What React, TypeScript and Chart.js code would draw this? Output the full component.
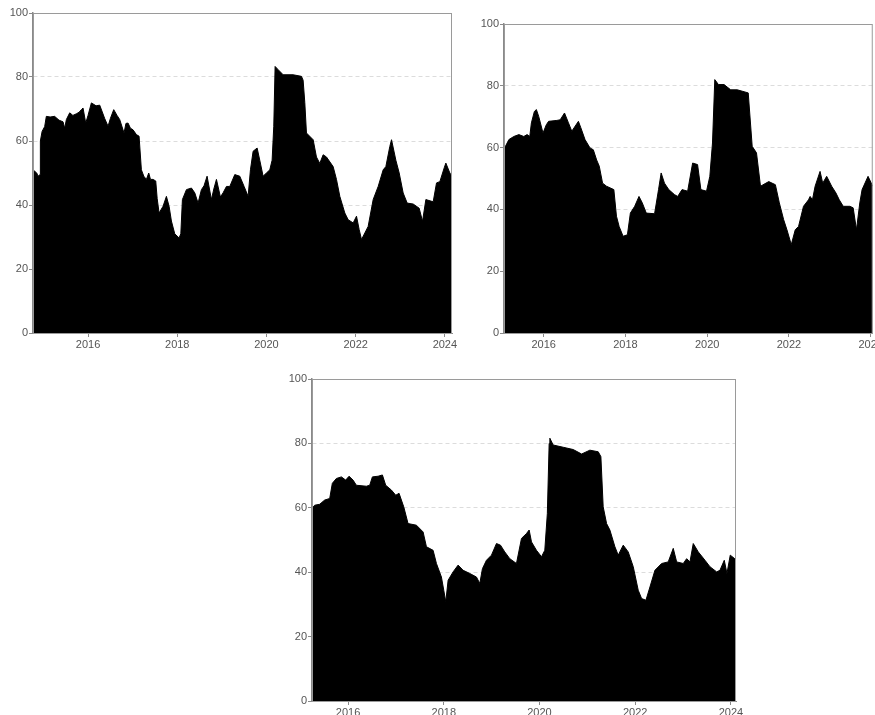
import React, { useEffect, useRef } from "react";
import { Chart, registerables } from "chart.js";

Chart.register(...registerables);

// ---------- data ----------
const xTickYears = [2016, 2018, 2020, 2022, 2024];
const yTickValues = [0, 20, 40, 60, 80, 100];

const p1Dates = [
  2014.766, 2014.85, 2014.879, 2014.925, 2014.931, 2014.97, 2015.028, 2015.065, 2015.15, 2015.25,
  2015.35, 2015.439, 2015.477, 2015.514, 2015.589, 2015.66, 2015.738, 2015.8, 2015.85, 2015.888,
  2015.948, 2016.0, 2016.075, 2016.18, 2016.262, 2016.374, 2016.449, 2016.5, 2016.576, 2016.65,
  2016.71, 2016.807, 2016.85, 2016.897, 2016.95, 2017.009, 2017.084, 2017.144, 2017.196, 2017.25,
  2017.308, 2017.361, 2017.4, 2017.458, 2017.518, 2017.55, 2017.593, 2017.682, 2017.757, 2017.817,
  2017.869, 2017.944, 2018.041, 2018.08, 2018.116, 2018.206, 2018.318, 2018.393, 2018.467, 2018.542,
  2018.6, 2018.669, 2018.766, 2018.82, 2018.879, 2018.968, 2019.028, 2019.103, 2019.178, 2019.29,
  2019.402, 2019.499, 2019.589, 2019.641, 2019.701, 2019.791, 2019.85, 2019.925, 2020.0, 2020.075,
  2020.127, 2020.164, 2020.194, 2020.262, 2020.374, 2020.598, 2020.785, 2020.822, 2020.86, 2020.897,
  2021.047, 2021.121, 2021.196, 2021.271, 2021.346, 2021.495, 2021.57, 2021.645, 2021.757, 2021.832,
  2021.944, 2022.019, 2022.079, 2022.131, 2022.206, 2022.28, 2022.393, 2022.505, 2022.617, 2022.677,
  2022.766, 2022.804, 2022.901, 2022.976, 2023.065, 2023.155, 2023.29, 2023.424, 2023.499, 2023.574,
  2023.738, 2023.813, 2023.888, 2023.985, 2024.022, 2024.112, 2024.16,
];
const p1Values = [
  51, 50, 49, 49.5, 60, 63, 64.5, 67.7, 67.5, 67.7,
  66.5, 66, 64, 66.7, 68.8, 68, 68.5, 69, 69.8, 70.3,
  65.6, 68, 71.9, 71, 71.2, 67, 64.6, 67, 69.8, 68,
  66.7, 62.5, 65.5, 65.6, 64, 63.5, 62, 61.5, 51, 49,
  48, 50, 48, 48, 47.5, 42, 37.5, 39.6, 42.7, 39.6,
  35, 31, 29.7, 31, 41.7, 44.8, 45.3, 43.8, 40.6, 44.8,
  46, 49, 41.7, 45, 48, 42.5, 43.8, 45.8, 45.8, 49.5,
  49, 45.8, 42.7, 51, 56.8, 57.8, 54, 49, 50, 51,
  54, 64.6, 83.3, 82.3, 80.7, 80.7, 80.2, 79, 72, 62.5,
  60.4, 55, 53, 55.7, 55, 52, 48, 42.7, 37.5, 35.4,
  34.4, 36.5, 32.3, 29.2, 31.25, 33.3, 41.7, 45.8, 51, 52,
  58.3, 60.4, 54, 50, 43.75, 40.6, 40.3, 39, 34.9, 41.7,
  41, 46.9, 47.3, 51.6, 53.1, 50, 49,
];

const p2Dates = [
  2015.03, 2015.069, 2015.15, 2015.271, 2015.393, 2015.514, 2015.595, 2015.66, 2015.7, 2015.773,
  2015.822, 2015.879, 2015.984, 2016.065, 2016.121, 2016.324, 2016.405, 2016.51, 2016.607, 2016.688,
  2016.85, 2016.907, 2017.012, 2017.134, 2017.215, 2017.296, 2017.36, 2017.441, 2017.538, 2017.717,
  2017.781, 2017.846, 2017.943, 2018.049, 2018.121, 2018.227, 2018.332, 2018.413, 2018.51, 2018.713,
  2018.81, 2018.874, 2018.955, 2019.061, 2019.198, 2019.279, 2019.385, 2019.522, 2019.644, 2019.765,
  2019.846, 2019.984, 2020.065, 2020.13, 2020.186, 2020.275, 2020.413, 2020.575, 2020.737, 2021.004,
  2021.101, 2021.206, 2021.304, 2021.506, 2021.668, 2021.765, 2021.87, 2021.951, 2022.057, 2022.154,
  2022.235, 2022.356, 2022.478, 2022.518, 2022.575, 2022.64, 2022.761, 2022.826, 2022.923, 2023.045,
  2023.15, 2023.231, 2023.328, 2023.49, 2023.571, 2023.652, 2023.733, 2023.789, 2023.935, 2024.05,
];
const p2Values = [
  59.3, 60.5, 62.6, 63.6, 64.2, 63.6, 64.2, 63.6, 68, 71.7,
  72.3, 70.1, 64.7, 67.4, 68.5, 68.8, 69, 71.2, 68, 65.3,
  68.5, 66.5, 62.6, 59.9, 59.3, 56, 54, 48.5, 47.5, 46.4,
  37.8, 34.5, 31.3, 31.8, 38.8, 41, 44.2, 42.1, 38.8, 38.6,
  46.4, 51.8, 48.5, 46.4, 44.8, 44.2, 46.4, 45.9, 55, 54.5,
  46.4, 45.9, 50.7, 61.5, 82, 80.4, 80.4, 78.7, 78.7, 77.7,
  60.4, 58.3, 47.5, 49, 48, 42.1, 36.7, 33.4, 28.6, 33.4,
  34.5, 41, 43.1, 44.2, 43.1, 47.5, 52.3, 48.5, 50.7, 47.5,
  45.3, 43.1, 41, 41, 40.5, 33.4, 42.1, 46.4, 50.7, 47.5,
];

const p3Dates = [
  2015.247, 2015.303, 2015.408, 2015.512, 2015.617, 2015.672, 2015.756, 2015.861, 2015.951, 2016.021,
  2016.105, 2016.174, 2016.383, 2016.453, 2016.509, 2016.627, 2016.718, 2016.787, 2016.906, 2016.997,
  2017.066, 2017.164, 2017.254, 2017.429, 2017.568, 2017.638, 2017.777, 2017.847, 2017.951, 2018.0,
  2018.042, 2018.091, 2018.195, 2018.3, 2018.404, 2018.544, 2018.683, 2018.753, 2018.808, 2018.892,
  2018.997, 2019.101, 2019.185, 2019.275, 2019.38, 2019.519, 2019.624, 2019.728, 2019.784, 2019.833,
  2019.937, 2020.042, 2020.111, 2020.164, 2020.202, 2020.217, 2020.286, 2020.495, 2020.704, 2020.88,
  2021.053, 2021.227, 2021.283, 2021.331, 2021.402, 2021.471, 2021.576, 2021.645, 2021.75, 2021.854,
  2021.959, 2022.063, 2022.134, 2022.224, 2022.308, 2022.412, 2022.552, 2022.69, 2022.795, 2022.866,
  2023.004, 2023.075, 2023.144, 2023.213, 2023.318, 2023.458, 2023.562, 2023.702, 2023.771, 2023.861,
  2023.917, 2023.986, 2024.07, 2024.106,
];
const p3Values = [
  59.8, 60.8, 61.1, 62.4, 62.9, 67.6, 69.1, 69.6, 68.6, 69.8,
  68.6, 67, 66.7, 67, 69.6, 69.8, 70.2, 67, 65.5, 63.9,
  64.5, 60.3, 55.1, 54.6, 52.5, 47.9, 46.8, 42.7, 38.5, 34.4,
  30.8, 37.5, 40.1, 42.2, 40.6, 39.6, 38.5, 36.5, 41.1, 43.7,
  45.3, 48.9, 48.4, 46.3, 44.2, 42.7, 50.5, 52, 53.1, 49.4,
  46.8, 44.8, 46.8, 58.2, 80, 81.6, 79.5, 78.8, 78.1, 76.7,
  77.9, 77.4, 75.9, 60.3, 55.1, 53.1, 47.9, 45.3, 48.4, 46.3,
  41.7, 34.4, 31.8, 31.3, 35.4, 40.6, 42.7, 43.2, 47.4, 43.2,
  42.7, 44.2, 43.2, 48.9, 46.3, 43.7, 41.7, 40.1, 40.6, 43.7,
  39.6, 45.3, 44.3, 44,
];

// ---------- chart ----------
const FONT = "'Liberation Sans', Arial, sans-serif";

const framePlugin = {
  id: "frame",
  afterDatasetsDraw(chart: any) {
    const a = chart.chartArea;
    const ctx = chart.ctx;
    ctx.save();
    ctx.strokeStyle = "#9a9a9a";
    ctx.lineWidth = 1;
    ctx.strokeRect(a.left + 0.5, a.top + 0.5, a.right - a.left - 1, a.bottom - a.top);
    ctx.restore();
  },
};

type PanelProps = {
  dates: number[];
  values: number[];
  xMin: number;
  xMax: number;
  left: number;
  top: number;
  width: number;
  height: number;
  padTop: number;
  padRight: number;
};

function Panel(p: PanelProps) {
  const ref = useRef<HTMLCanvasElement>(null);
  useEffect(() => {
    const data = p.dates.map((d, i) => ({ x: d, y: p.values[i] }));
    const chart = new Chart(ref.current!, {
      type: "line",
      data: {
        datasets: [
          {
            data,
            borderColor: "#000",
            backgroundColor: "#000",
            borderWidth: 1,
            fill: "origin",
            pointRadius: 0,
            tension: 0,
          },
        ],
      },
      options: {
        animation: false,
        responsive: false,
        events: [],
        layout: { padding: { top: p.padTop, right: p.padRight, left: 0, bottom: 0 } },
        plugins: { legend: { display: false }, tooltip: { enabled: false } },
        scales: {
          x: {
            type: "linear",
            min: p.xMin,
            max: p.xMax,
            afterBuildTicks: (s: any) => {
              s.ticks = xTickYears.map((v) => ({ value: v }));
            },
            afterFit: (s: any) => {
              s.height = 20;
            },
            ticks: {
              autoSkip: false,
              maxRotation: 0,
              padding: 1,
              color: "#555",
              font: { family: FONT, size: 11 },
              callback: (v: any) => String(v),
            },
            grid: { drawOnChartArea: false, drawTicks: true, tickLength: 4, tickColor: "#8a8a8a" },
            border: { color: "#8a8a8a", width: 1 },
          },
          y: {
            type: "linear",
            min: 0,
            max: 100,
            afterBuildTicks: (s: any) => {
              s.ticks = yTickValues.map((v) => ({ value: v }));
            },
            afterFit: (s: any) => {
              s.width = 33;
            },
            ticks: {
              padding: 1,
              color: "#555",
              font: { family: FONT, size: 11 },
              callback: (v: any) => String(v),
            },
            grid: {
              color: "#dcdcdc",
              lineWidth: 1,
              drawTicks: true,
              tickLength: 4,
              tickColor: "#8a8a8a",
              tickBorderDash: [],
            },
            border: { color: "#8a8a8a", width: 1.5, dash: [4, 3] },
          },
        },
      },
      plugins: [framePlugin],
    });
    return () => chart.destroy();
  }, []);
  return (
    <canvas
      ref={ref}
      width={p.width}
      height={p.height}
      style={{ position: "absolute", left: p.left, top: p.top, width: p.width, height: p.height }}
    />
  );
}

export default function App() {
  return (
    <div
      style={{
        position: "fixed",
        left: 0,
        top: 0,
        width: 875,
        height: 715,
        overflow: "hidden",
        background: "#fff",
      }}
    >
      <Panel
        dates={p1Dates}
        values={p1Values}
        xMin={2014.766}
        xMax={2024.16}
        left={0}
        top={0}
        width={462}
        height={353}
        padTop={13}
        padRight={10}
      />
      <Panel
        dates={p2Dates}
        values={p2Values}
        xMin={2015.03}
        xMax={2024.05}
        left={471}
        top={0}
        width={413}
        height={353}
        padTop={24}
        padRight={10}
      />
      <Panel
        dates={p3Dates}
        values={p3Values}
        xMin={2015.247}
        xMax={2024.106}
        left={279}
        top={360}
        width={467}
        height={361}
        padTop={19}
        padRight={10}
      />
    </div>
  );
}
